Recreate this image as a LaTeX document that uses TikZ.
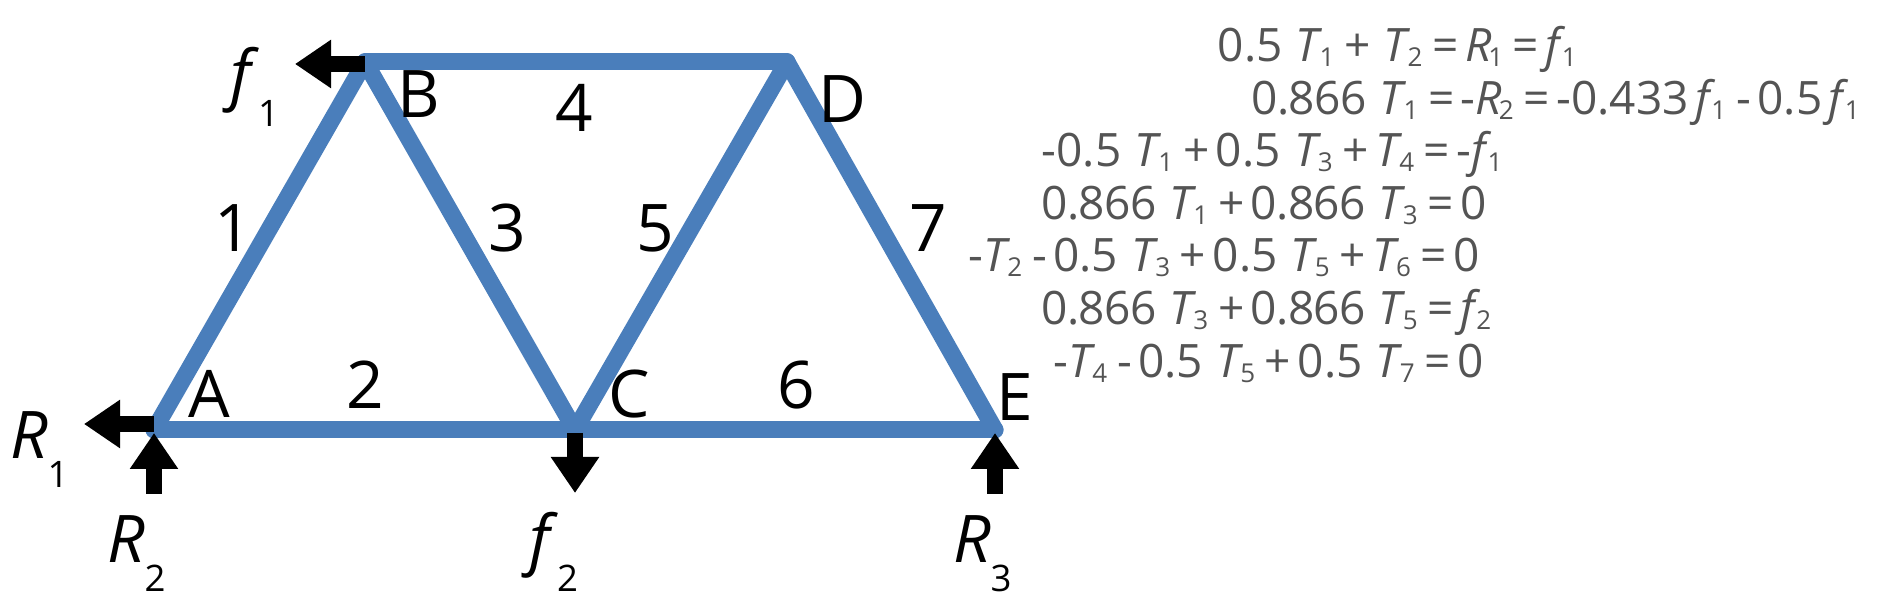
\documentclass[tikz,border=0pt]{standalone}
\usepackage{xcolor}
\usepackage{fontspec}
\setmainfont{Open Sans}
\newfontfamily\eqfont[WordSpace=0.55]{Open Sans}
\usepackage{tikz}
\usetikzlibrary{arrows.meta}

\definecolor{memberblue}{RGB}{74,126,187}
\definecolor{eqgray}{RGB}{84,84,84}

% Force symbol with its low-set index
\newcommand{\forcesym}[3]{\textit{#1}\kern#3\raisebox{-8.2pt}{\fontsize{10.4}{12}\selectfont #2}}
% Symbol with index inside an equation
\newcommand{\eqsym}[3][-0.9pt]{\textit{#2}\kern#1\raisebox{-1.3pt}{\fontsize{7.4}{8}\selectfont #3}\kern0.9pt\relax}
% The long coefficient, set a little tighter
\newcommand{\longcoef}{0\kern-.2pt.\kern-.2pt8\kern-.2pt6\kern-.2pt6}

\begin{document}
\begin{tikzpicture}[
    member/.style={line width=0.17cm, draw=memberblue, line cap=round},
    force/.style={line width=0.16cm, draw=black, -{Triangle[length=0.36cm, width=0.46cm]}},
    textlabel/.style={font=\fontsize{18.7}{22}\selectfont, text=black, inner sep=0, anchor=base},
    eqline/.style={font=\eqfont\fontsize{13.1}{16}\selectfont, text=eqgray, inner sep=0, anchor=base west}
]
\useasboundingbox (0, 0) rectangle (18.85, 6.15);

%==============================================================================
% Joints
%==============================================================================
\coordinate (jointA) at (1.54, 1.85);
\coordinate (jointB) at (3.65, 5.53);
\coordinate (jointC) at (5.75, 1.85);
\coordinate (jointD) at (7.87, 5.53);
\coordinate (jointE) at (9.95, 1.85);

%==============================================================================
% Truss members
%==============================================================================
\draw[member] (jointA) -- (jointB);
\draw[member] (jointA) -- (jointC);
\draw[member] (jointB) -- (jointC);
\draw[member] (jointB) -- (jointD);
\draw[member] (jointC) -- (jointD);
\draw[member] (jointC) -- (jointE);
\draw[member] (jointD) -- (jointE);

% Member numbers
\node[textlabel] (num1) at (2.33, 3.63) {1};
\node[textlabel] (num2) at (3.65, 2.06) {2};
\node[textlabel] (num3) at (5.07, 3.63) {3};
\node[textlabel] (num4) at (5.74, 4.83) {4};
\node[textlabel] (num5) at (6.55, 3.63) {5};
\node[textlabel] (num6) at (7.96, 2.06) {6};
\node[textlabel] (num7) at (9.28, 3.63) {7};

% Joint letters
\node[textlabel] (nameA) at (2.09, 1.97) {A};
\node[textlabel] (nameB) at (4.19, 4.97) {B};
\node[textlabel] (nameC) at (6.29, 1.97) {C};
\node[textlabel] (nameD) at (8.42, 4.92) {D};
\node[textlabel] (nameE) at (10.15, 1.94) {E};

%==============================================================================
% Loads and reactions
%==============================================================================
\coordinate (tailF1) at (3.65, 5.51);
\coordinate (tipF1) at (2.95, 5.51);
\coordinate (tailR1) at (1.54, 1.91);
\coordinate (tipR1) at (0.84, 1.91);
\coordinate (tailR2) at (1.54, 1.21);
\coordinate (tipR2) at (1.54, 1.82);
\coordinate (tailF2) at (5.75, 1.82);
\coordinate (tipF2) at (5.75, 1.22);
\coordinate (tailR3) at (9.95, 1.21);
\coordinate (tipR3) at (9.95, 1.82);

\draw[force] (tailF1) -- (tipF1);
\draw[force] (tailR1) -- (tipR1);
\draw[force] (tailR2) -- (tipR2);
\draw[force] (tailF2) -- (tipF2);
\draw[force] (tailR3) -- (tipR3);

\node[textlabel, anchor=base west] (labelF1) at (2.30, 5.17) {\forcesym{f}{1}{-0.4pt}};
\node[textlabel, anchor=base west] (labelR1) at (0.10, 1.56) {\forcesym{R}{1}{-0.2pt}};
\node[textlabel, anchor=base west] (labelR2) at (1.07, 0.52) {\forcesym{R}{2}{-0.2pt}};
\node[textlabel, anchor=base west] (labelF2) at (5.29, 0.52) {\forcesym{f}{2}{-0.4pt}};
\node[textlabel, anchor=base west] (labelR3) at (9.53, 0.52) {\forcesym{R}{3}{-0.2pt}};

%==============================================================================
% Equilibrium equations
%==============================================================================
\node[eqline] (eq1) at (12.17, 5.53) {0.5 \ \eqsym{T}{1} + \ \eqsym{T}{2} = \eqsym{R}{1} = \eqsym[-1.2pt]{f}{1}};
\node[eqline] (eq2) at (12.51, 5.00) {\longcoef{} \ \eqsym{T}{1} = -\eqsym{R}{2} = -0.433 \eqsym[-1.2pt]{f}{1} - 0.5 \eqsym[-1.2pt]{f}{1}};
\node[eqline] (eq3) at (10.41, 4.48) {-0.5 \ \eqsym{T}{1} + 0.5 \ \eqsym{T}{3} + \eqsym{T}{4} = -\eqsym[-1.2pt]{f}{1}};
\node[eqline] (eq4) at (10.41, 3.95) {\longcoef{} \ \eqsym{T}{1} + \longcoef{} \ \eqsym{T}{3} = 0};
\node[eqline] (eq5) at (9.68, 3.43) {-\eqsym{T}{2} - 0.5 \ \eqsym{T}{3} + 0.5 \ \eqsym{T}{5} + \eqsym{T}{6} = 0};
\node[eqline] (eq6) at (10.41, 2.90) {\longcoef{} \ \eqsym{T}{3} + \longcoef{} \ \eqsym{T}{5} = \eqsym[-1.2pt]{f}{2}};
\node[eqline] (eq7) at (10.53, 2.37) {-\eqsym{T}{4} - 0.5 \ \eqsym{T}{5} + 0.5 \ \eqsym{T}{7} = 0};

\end{tikzpicture}
\end{document}
